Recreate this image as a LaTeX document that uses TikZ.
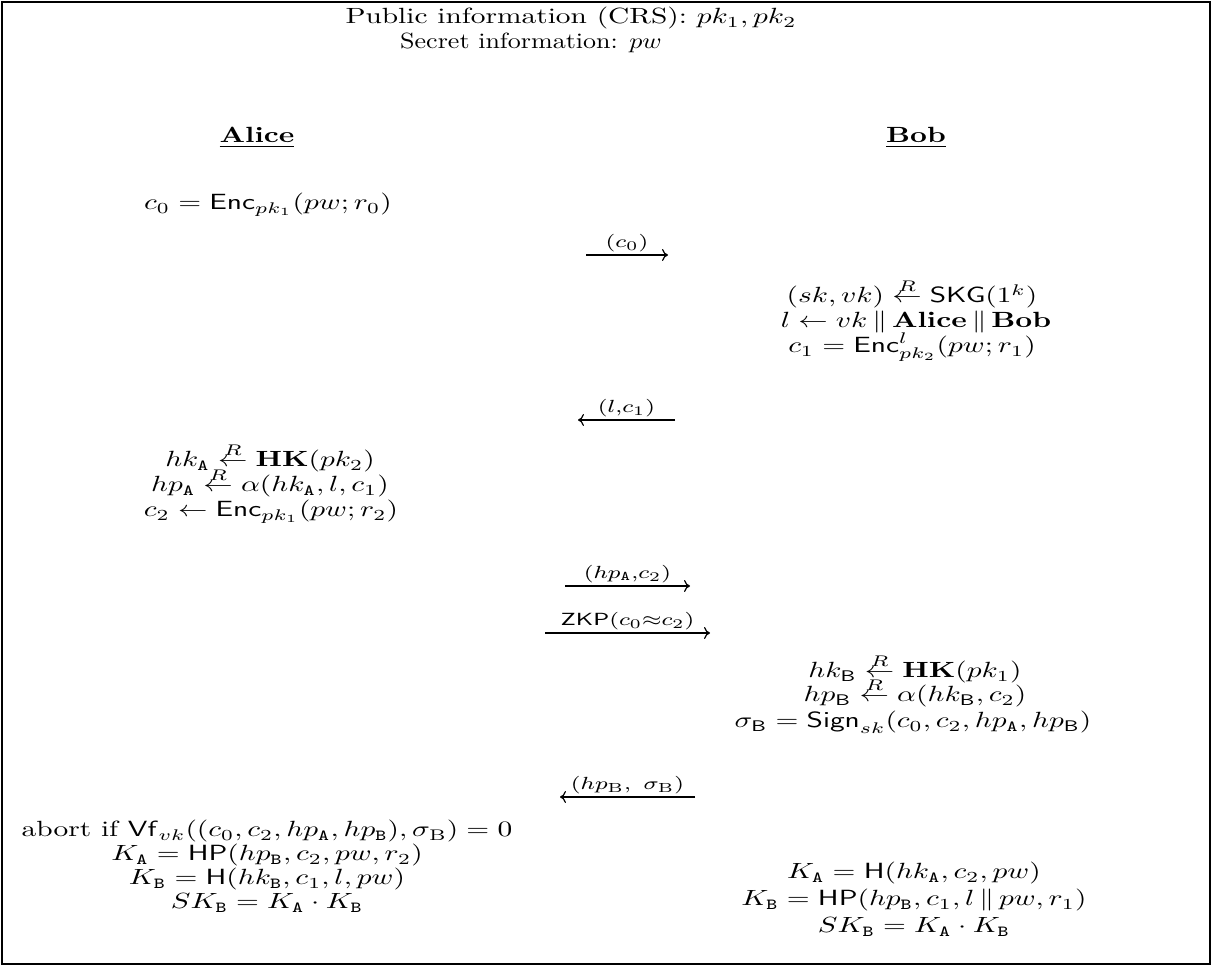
\documentclass[tikz,border=0pt]{standalone}
\usepackage{amsmath,amssymb}
\usepackage{graphicx}
\usetikzlibrary{arrows.meta}
\newcommand\sx[1]{\scalebox{1.47}[1.1]{#1}}
\newcommand\rgets{\mathrel{\overset{\smash{\raisebox{-0.4pt}{$\scriptstyle R$}}}{\leftarrow}}}
\newcommand\tA{\mathtt{A}}
\newcommand\tB{\mathtt{B}}
\newcommand\sB{\mathsf{B}}
\begin{document}
\begin{tikzpicture}[x=0.5pt,y=-0.5pt,
  txt/.style={anchor=base, inner sep=0pt},
  lbl/.style={midway, above, inner sep=1.2pt, font=\footnotesize},
  msg/.style={line width=0.6pt, -{To[length=3pt,width=6pt]}},
]
\useasboundingbox (0,0) rectangle (1212,972);
\draw[line width=0.9pt] (2,2) rectangle (1210,964);

\node[txt] (pub) at (571,24) {\sx{Public information (CRS): $pk_1, pk_2$}};
\node[txt] (sec) at (531,49) {\scalebox{1.3}[1.1]{Secret information: $pw$}};
\node[txt] (alice) at (257,143) {\sx{\underline{\textbf{Alice}}}};
\node[txt] (bob) at (916,143) {\sx{\underline{\textbf{Bob}}}};

\node[txt] (a1) at (268,210) {\sx{$c_0 = \mathsf{Enc}_{pk_1}(pw; r_0)$}};
\coordinate (m1s) at (586,255); \coordinate (m1e) at (668,255);
\draw[msg] (m1s) -- node[lbl] (l1) {\sx{$(c_0)$}} (m1e);

\node[txt] (b1) at (912,303) {\sx{$(sk, vk) \rgets \mathsf{SKG}(1^k)$}};
\node[txt] (b2) at (916,328) {\sx{$l \leftarrow vk \,\|\, \mathbf{Alice} \,\|\, \mathbf{Bob}$}};
\node[txt] (b3) at (912,353) {\sx{$c_1 = \mathsf{Enc}^l_{pk_2}(pw; r_1)$}};
\coordinate (m2s) at (675,420); \coordinate (m2e) at (578,420);
\draw[msg] (m2s) -- node[lbl] (l2) {\sx{$(l{,}c_1)$}} (m2e);

\node[txt] (a2) at (270,467) {\sx{$hk_{\tA} \rgets \mathbf{HK}(pk_2)$}};
\node[txt] (a3) at (270,492) {\sx{$hp_{\tA} \rgets \alpha(hk_{\tA}, l, c_1)$}};
\node[txt] (a4) at (271,517) {\sx{$c_2 \leftarrow \mathsf{Enc}_{pk_1}(pw; r_2)$}};
\coordinate (m3s) at (565,586); \coordinate (m3e) at (690,586);
\draw[msg] (m3s) -- node[lbl] (l3) {\sx{$(hp_{\tA}{,}c_2)$}} (m3e);
\coordinate (m4s) at (545,633); \coordinate (m4e) at (710,633);
\draw[msg] (m4s) -- node[lbl] (l4) {\sx{$\mathsf{ZKP}(c_0{\approx}c_2)$}} (m4e);

\node[txt] (b4) at (915,678) {\sx{$hk_{\sB} \rgets \mathbf{HK}(pk_1)$}};
\node[txt] (b5) at (915,702) {\sx{$hp_{\sB} \rgets \alpha(hk_{\sB}, c_2)$}};
\node[txt] (b6) at (913,728) {\sx{$\sigma_{\sB} = \mathsf{Sign}_{sk}(c_0, c_2, hp_{\tA}, hp_{\sB})$}};
\coordinate (m5s) at (695,797); \coordinate (m5e) at (560,797);
\draw[msg] (m5s) -- node[lbl] (l5) {\sx{$(hp_{\mathrm{B}},\ \sigma_{\mathrm{B}})$}} (m5e);

\node[txt] (a5) at (267,837) {\sx{abort if $\mathsf{Vf}_{vk}((c_0, c_2, hp_{\tA}, hp_{\tB}), \sigma_{\mathrm{B}}) = 0$}};
\node[txt] (a6) at (267,861) {\sx{$K_{\tA} = \mathsf{HP}(hp_{\tB}, c_2, pw, r_2)$}};
\node[txt] (a7) at (267,885) {\sx{$K_{\tB} = \mathsf{H}(hk_{\tB}, c_1, l, pw)$}};
\node[txt] (a8) at (267,909) {\sx{$SK_{\tB} = K_{\tA} \cdot K_{\tB}$}};

\node[txt] (b7) at (914,879) {\sx{$K_{\tA} = \mathsf{H}(hk_{\tA}, c_2, pw)$}};
\node[txt] (b8) at (914,906) {\sx{$K_{\tB} = \mathsf{HP}(hp_{\tB}, c_1, l \,\|\, pw, r_1)$}};
\node[txt] (b9) at (914,933) {\sx{$SK_{\tB} = K_{\tA} \cdot K_{\tB}$}};
\end{tikzpicture}
\end{document}
